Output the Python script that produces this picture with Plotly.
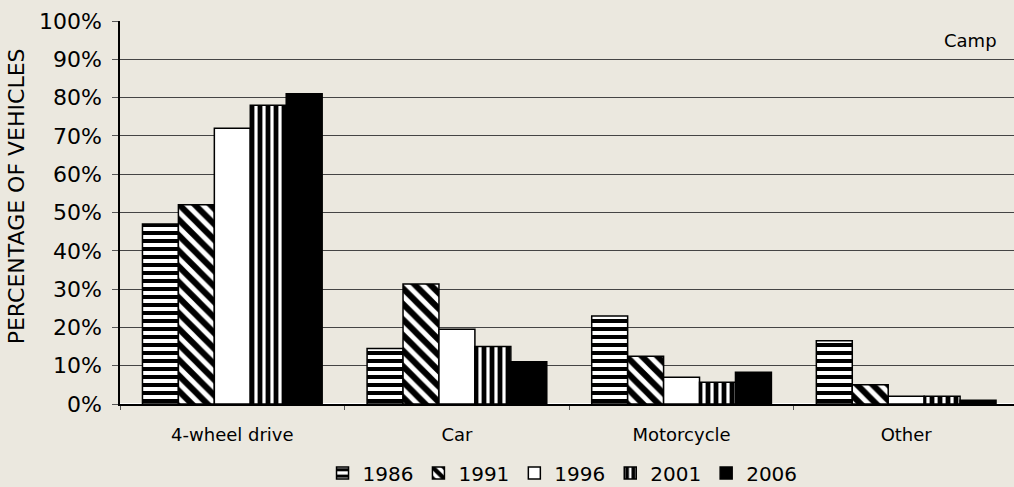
import plotly.graph_objects as go

categories = ['4-wheel drive', 'Car', 'Motorcycle', 'Other']
years = ['1986', '1991', '1996', '2001', '2006']
values_1986 = [47, 14.5, 23, 16.5]
values_1991 = [52, 31.3, 12.5, 5]
values_1996 = [72, 19.5, 7, 2]
values_2001 = [78, 15, 5.7, 2]
values_2006 = [81, 11, 8.3, 1]
y_ticks = [0, 10, 20, 30, 40, 50, 60, 70, 80, 90, 100]

series = [values_1986, values_1991, values_1996, values_2001, values_2006]
patterns = [
    dict(shape='-', fgcolor='black', bgcolor='white', fgopacity=1, size=8, solidity=0.5),
    dict(shape='\\', fgcolor='black', bgcolor='white', fgopacity=1, size=11, solidity=0.55),
    dict(shape='', fgcolor='black', bgcolor='white'),
    dict(shape='|', fgcolor='black', bgcolor='white', fgopacity=1, size=8, solidity=0.6),
    dict(shape='', fgcolor='black', bgcolor='black'),
]
fills = ['white', 'white', 'white', 'white', 'black']

bg = '#ebe8df'
font_name = 'DejaVu Sans, Arial'

fig = go.Figure()
for year, vals, pat, fill in zip(years, series, patterns, fills):
    fig.add_trace(go.Bar(
        x=categories, y=vals, name=year,
        marker=dict(color=fill, pattern=pat, line=dict(color='black', width=1.5)),
    ))

fig.update_layout(
    width=1014, height=487,
    paper_bgcolor=bg, plot_bgcolor=bg,
    margin=dict(l=120, r=0, t=21, b=83, autoexpand=False),
    barmode='group', bargap=0.2, bargroupgap=0,
    font=dict(family=font_name, color='black'),
    showlegend=True,
    legend=dict(orientation='h', x=0.495, xanchor='center', y=-0.18, yanchor='middle',
                font=dict(size=20), bgcolor='rgba(0,0,0,0)',
                itemwidth=30, tracegroupgap=0),
    annotations=[
        dict(text='Camp', x=0.951, y=0.95, xref='paper', yref='paper',
             xanchor='center', yanchor='middle', showarrow=False,
             font=dict(size=18)),
        dict(text='PERCENTAGE OF VEHICLES', textangle=-90,
             x=-0.116, y=0.543, xref='paper', yref='paper',
             xanchor='center', yanchor='middle', showarrow=False,
             font=dict(size=22)),
    ],
)
fig.update_xaxes(
    range=[-0.5, 3.48], showline=True, linecolor='black', linewidth=1.5,
    ticks='outside', tickson='boundaries', ticklen=4, tickcolor='#555',
    ticklabelstandoff=14, tickfont=dict(size=18), showgrid=False, automargin=False,
)
fig.update_yaxes(
    range=[0, 100], tickvals=y_ticks, ticktext=[f'{v}%' for v in y_ticks],
    showline=True, linecolor='black', linewidth=1.5,
    ticks='outside', ticklen=6, tickcolor='#555', ticklabelstandoff=6,
    tickfont=dict(size=22), showgrid=True, gridcolor='#444', gridwidth=1, automargin=False,
)

fig.write_html('out.html', config={'displayModeBar': False},
               post_script="document.body.style.margin='0';")
